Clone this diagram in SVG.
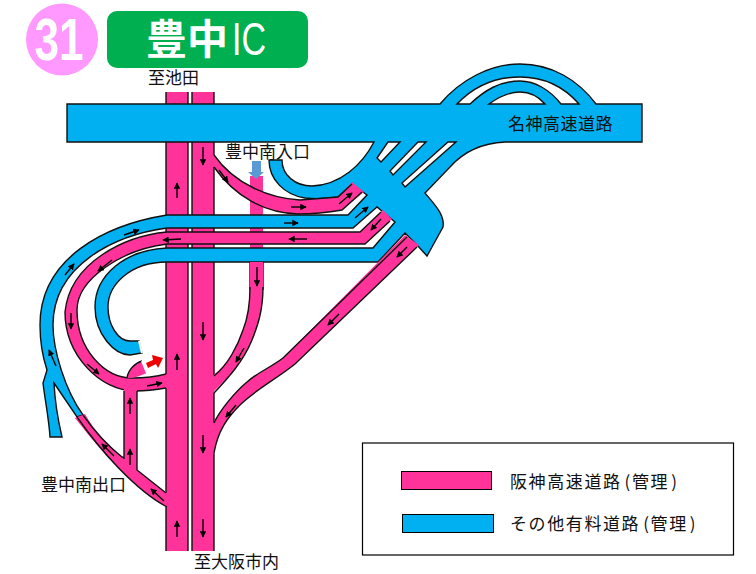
<svg xmlns="http://www.w3.org/2000/svg" width="756" height="574" viewBox="0 0 756 574">
<style>
text{font-family:"Noto Sans CJK JP","Liberation Sans",sans-serif;fill:#111}
.lb{font-size:17px}
.lg{font-size:17px;letter-spacing:1.6px}
.p{fill:#FF3399;stroke:none}
.e{fill:none;stroke:#111;stroke-width:1.4}
.a{fill:none;stroke:#000;stroke-width:1.4;marker-end:url(#ah)}
</style>
<defs>
<marker id="ah" viewBox="0 0 8 8" refX="7" refY="4" markerWidth="6.5" markerHeight="6.5" markerUnits="userSpaceOnUse" orient="auto"><path d="M0,0L8,4L0,8Z" fill="#000"/></marker>
</defs>
<rect width="756" height="574" fill="#fff"/>
<g id="badge">
<circle cx="62" cy="39.5" r="36" fill="#FF99FF"/>
<text x="34.5" y="60" font-size="60" font-weight="700" textLength="49" lengthAdjust="spacingAndGlyphs" style="font-family:'Liberation Sans',sans-serif;fill:#fff">31</text>
</g>
<g id="title">
<rect x="107" y="11" width="201" height="57" rx="10" fill="#00B050"/>
<text x="146" y="54" font-size="41" font-weight="700" style="fill:#fff">豊中</text>
<text x="232" y="55" font-size="46" textLength="34" lengthAdjust="spacingAndGlyphs" style="font-family:'Liberation Sans',sans-serif;fill:#fff">IC</text>
</g>
<g id="expressway-verticals">
<rect class="p" x="166" y="92" width="22" height="459"/>
<rect class="p" x="192" y="92" width="22" height="459"/>
<rect class="p" x="250" y="176" width="13" height="114"/>
<path class="e" d="M166,92V374M166,388V493M166,507V551M188,92V551M192,92V551M214,92V155M214,167V376M214,393V423M214,453V551"/>
<path class="e" d="M250,262V290M263,262V290"/>
</g>
<g id="meishin-road">
<path fill="#00B0F0" stroke="#111" stroke-width="1.4" fill-rule="evenodd" d="M67,104H440C460,80 490,64 520,64C552,64 578,80 596,104H642V142H505C485,143 465,150 450,167L425,193C435,205 445,215 443,227L427,256L417,245L405,233L378,262H167C130,262 108,285 108,307C108,325 118,341 130,341L139,341L142,353L130,355C115,355 95,335 95,307C95,275 125,250 167,248H373L395,222L377,207L353,228H167C115,235 53,265 53,325C53,350 65,390 83,415L77,417L54,383C55,403 58,420 62,437H50C49,420 45,400 43,383L47,370C43,358 40,345 40,325C40,258 105,225 167,215H348L367,195L352,184L338,197C325,199 315,199 305,198C285,195 269,180 269,160H282C282,175 295,186 312,186C340,185 362,165 374,142H67Z
M457,104C475,85 497,77 520,77C545,77 565,88 579,104H561C550,90 535,81 520,81C500,81 485,90 470,104Z
M489,104C500,96 510,92 520,92C530,92 538,96 545,104Z
M388,142H400L381,162L377,158Z
M418,142H426L393,175L390,171Z
M448,142H456L405,187L402,183Z"/>
<path d="M139,341L142,353" stroke="#fff" stroke-width="2" fill="none"/>
</g>
<g id="ramp-south-entrance">
<path class="p" d="M212,153C235,185 270,198 300,200L338,197L352,182L364,192L342,210C325,213 310,214 298,214C265,213 235,197 212,165Z"/>
<path class="e" d="M214,155C235,185 270,198 300,200L338,197L352,184M362,192L342,210C325,213 310,214 298,214C265,213 235,197 214,167"/>
</g>
<g id="ramp-ring">
<path class="p" d="M383,210L360,232H167C125,236 70,262 65,312C65,355 100,391 135,391C145,391 155,390 168,388V374C155,377 145,378 132,378C105,378 77,350 77,310C77,280 120,250 167,244H365L392,219Z"/>
<path class="e" d="M381,212L360,232H167C125,236 70,262 65,312C65,355 100,391 135,391C145,391 155,390 166,388M166,374C155,377 145,378 132,378C105,378 77,350 77,310C77,280 120,250 167,244H365L390,221"/>
</g>
<g id="ramp-south-exit">
<path class="p" d="M85,414C95,432 108,446 124,458V388H137V470L168,494V507L167,507C135,490 100,450 75,418Z"/>
<path class="e" d="M83,415C95,432 108,446 122,457L124,458V391M137,391V470L166,493M167,507C135,490 100,450 77,417"/>
<path d="M127,378C128,370 135,363 142,361L147,373C140,376 134,378 127,378Z" fill="#FF3399"/>
<path class="e" d="M127,378C128,370 135,363 142,361"/>
<path d="M142,361L147,373" stroke="#fff" stroke-width="2" fill="none"/>
</g>
<g id="ramp-branch">
<path class="p" d="M250,262H263V287C263,310 258,325 252,340C243,362 228,378 212,393V376C228,365 238,345 243,330C247,320 250,305 250,287Z"/>
<path class="e" d="M250,287C250,305 247,320 243,330C238,345 228,365 214,376M263,287C263,310 258,325 252,340C243,362 228,378 214,393"/>
</g>
<g id="ramp-diagonal">
<path class="p" d="M405,235L283,358C270,368 258,372 247,382C235,392 220,410 212,425V455L214,453C218,430 228,417 240,405C255,390 275,380 295,364L419,245Z"/>
<path class="e" d="M407,237L283,358C270,368 258,372 247,382C235,392 220,410 214,423M417,247L295,364C275,380 255,390 240,405C228,417 218,430 214,453"/>
</g>
<g id="markers">
<path d="M146,363L153,360L152,355L163,358L158,368L156,364L148,368Z" fill="#F00000"/>
<path d="M252,161H261V172H264L256,179L248,172H252Z" fill="#5B9BD5"/>
</g>
<g id="connectors">
<path class="a" d="M291,207H306"/><path class="a" d="M284,223H298"/><path class="a" d="M339,204L352,193"/><path class="a" d="M355,218L368,207"/><path class="a" d="M381,219L371,230"/><path class="a" d="M307,239H289"/><path class="a" d="M407,247L397,257"/>
<path class="a" d="M257,267V286"/><path class="a" d="M244,348L236,362"/><path class="a" d="M339,314L328,325"/><path class="a" d="M236,405L226,417"/><path class="a" d="M203,322V340"/>
<path class="a" d="M124,235L139,230"/><path class="a" d="M65,275L74,264"/><path class="a" d="M56,366L49,350"/><path class="a" d="M181,239L163,240"/><path class="a" d="M112,260L98,271"/><path class="a" d="M71,313V329"/><path class="a" d="M87,364L99,374"/><path class="a" d="M147,386L162,383"/><path class="a" d="M177,370V354"/>
<path class="a" d="M130,414V398"/><path class="a" d="M130,465V449"/><path class="a" d="M114,456L102,444"/><path class="a" d="M164,501L151,489"/><path class="a" d="M203,435V453"/><path class="a" d="M177,537V521"/><path class="a" d="M203,519V537"/>
<path class="a" d="M177,198V183"/><path class="a" d="M203,147V165"/><path class="a" d="M219,170L228,182"/>
</g>
<g id="labels">
<text class="lb" x="148" y="84">至池田</text>
<text class="lb" x="225" y="158">豊中南入口</text>
<text class="lb" x="508" y="130" style="letter-spacing:.5px">名神高速道路</text>
<text class="lb" x="41" y="491">豊中南出口</text>
<text class="lb" x="194" y="568">至大阪市内</text>
</g>
<g id="legend">
<rect x="362.5" y="443" width="371" height="112" fill="#fff" stroke="#000" stroke-width="1.2"/>
<rect x="401.5" y="471.5" width="90" height="18" fill="#FF3399" stroke="#000" stroke-width="1"/>
<rect x="402.5" y="514.5" width="91" height="18" fill="#00B0F0" stroke="#000" stroke-width="1"/>
<text class="lg" x="510" y="488">阪神高速道路<tspan dx="3">(</tspan>管理<tspan dx="2">)</tspan></text>
<text class="lg" x="510" y="530">その他有料道路<tspan dx="3">(</tspan>管理<tspan dx="2">)</tspan></text>
</g>
</svg>
